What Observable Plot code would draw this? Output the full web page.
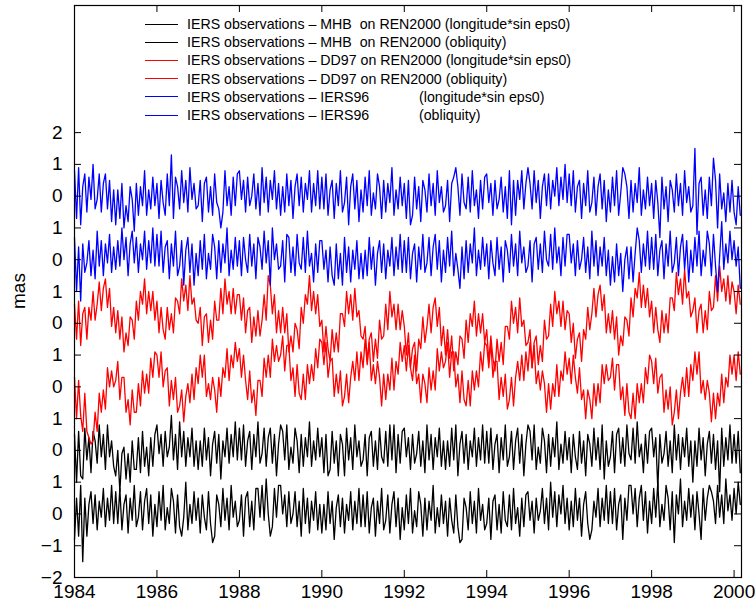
<!DOCTYPE html>
<html><head><meta charset="utf-8">
<script src="https://cdn.jsdelivr.net/npm/d3@7"></script>
<script src="https://cdn.jsdelivr.net/npm/@observablehq/plot@0.6"></script>
<style>
body{margin:0;background:#fff;font-family:"Liberation Sans",Arial,Helvetica,sans-serif;}
#wrap{position:relative;width:756px;height:605px;overflow:hidden;}
.lg{position:absolute;font-size:14.2px;white-space:pre;line-height:16px;color:#000;}
.sw{position:absolute;height:0;border-top:1.2px solid #000;width:33px;}
#ylab{position:absolute;font-size:19px;line-height:19px;transform:translate(-50%,-50%) rotate(-90deg);}
</style>
</head><body>
<div id="wrap"><div id="chart"></div></div>
<script>
// Sampling grid of the residual series (years)
const t0 = 1984, dt = 0.05;
// Residuals in units of 0.1 mas, one value every dt years starting at t0 (one row per year)
const iers96Long = [
8,-7,9,-9,3,7,-5,6,-1,10,-4,-1,7,-5,4,7,-4,5,-8,2,
-9,2,-7,4,-10,-3,-8,3,-1,-11,4,-6,3,-3,8,-6,2,-4,6,-3,
4,-7,5,-2,-6,7,-3,13,-7,6,3,-4,8,-2,5,-5,9,-1,4,-4,
-3,5,-8,4,6,-5,3,-6,7,-2,-4,-10,-5,8,-3,3,-6,6,-3,7,
8,-1,5,-5,6,-3,0,7,-4,4,-6,9,-2,6,-5,5,-1,8,-4,4,
-6,3,-5,7,-3,5,-7,3,7,-3,6,-5,4,-1,8,-5,4,-3,8,-4,
6,-4,7,-6,2,5,-7,4,-3,8,-5,-2,6,-9,3,7,-4,5,-8,2,
-5,6,-3,8,-6,1,-4,7,3,-7,5,-5,4,-2,9,-6,2,-4,6,-3,
4,-7,5,-9,-6,6,-4,3,-8,5,2,-5,7,-3,4,-6,8,-2,3,-5,
-3,5,-8,4,6,9,3,-6,7,-2,-4,6,-5,8,-3,2,-7,5,-4,6,
7,-2,4,-6,5,-4,-1,6,-5,3,-7,8,-9,5,-6,5,-1,8,-4,4,
9,4,-4,8,-2,5,-7,3,7,-3,7,-4,5,0,9,-3,6,-1,10,-2,
7,-3,8,-5,3,5,-7,4,-3,8,-5,-2,6,-6,3,7,-4,5,-8,2,
-5,6,-3,8,-6,1,9,7,3,-7,5,-5,4,-2,9,-6,2,-4,6,-3,
4,-7,5,-2,-13,6,-4,3,-8,5,2,-5,7,-3,4,-6,8,-2,3,-5,
-3,15,-12,4,6,-6,2,-7,6,-3,12,5,-10,7,-4,1,-8,4,-5,5,
-5,-9,3,-6];
const iers96Obl = [
7,-10,4,-13,5,-4,-1,6,-5,3,-6,9,-2,6,-5,5,-1,8,-4,4,
-3,6,-2,10,0,7,-5,5,9,-1,7,-4,5,0,9,-3,6,-1,10,-2,
8,-2,9,-4,4,6,-6,5,-2,9,-5,-2,6,-8,3,7,-4,5,-8,2,
-5,6,-3,8,-6,2,-3,8,4,-6,6,-4,5,-1,10,-5,3,-3,7,-2,
6,-5,7,0,-4,8,-2,5,-6,7,4,-3,9,-1,6,-8,10,0,5,-3,
-2,6,-7,8,7,-4,4,-5,8,-1,-3,7,-4,9,-2,2,-7,5,-4,6,
6,-3,3,-7,4,-5,-8,5,-6,2,-8,7,-4,4,-7,3,-3,6,-6,2,
-6,3,-5,7,-3,4,-8,2,6,-4,5,-6,3,-2,7,-5,4,-3,8,-4,
6,-4,7,-6,2,5,-7,4,-3,8,-4,-1,7,-5,4,8,-3,6,-7,3,
-4,7,-2,9,-5,2,-3,-9,4,-6,6,-4,5,-1,10,-5,3,-3,7,-2,
5,-6,6,-1,-5,7,-3,4,-7,6,3,-4,8,-2,5,-5,9,-1,4,-4,
-2,6,-7,5,7,-3,5,-4,9,0,-2,8,-3,10,-1,4,-5,7,-2,8,
8,-1,5,-5,6,-3,0,7,-4,4,-6,9,-2,6,-5,4,-2,7,-5,3,
-8,1,-7,5,-5,2,-10,0,4,-6,4,-7,2,10,6,-4,5,-2,9,-3,
7,-3,8,-5,3,6,-6,5,-2,9,-4,-1,7,-5,4,8,-3,6,-7,3,
-4,7,-2,9,-5,3,-2,9,5,-5,8,-2,-10,1,12,-3,5,-1,9,0,
6,-2,4,-9];
const dd97Long = [
6,-5,7,-7,3,5,-5,5,1,10,1,6,13,4,11,14,5,11,-1,5,
-3,4,-5,2,-9,-3,-7,2,1,-5,7,1,10,6,14,3,10,4,10,1,
7,-3,5,-2,-5,5,-2,3,-3,8,7,3,14,7,12,4,15,6,8,1,
0,5,-7,2,3,-6,1,-5,7,1,1,11,3,14,6,10,3,11,3,9,
9,1,8,-3,4,5,-6,2,-4,4,-4,1,9,1,15,12,3,9,-3,4,
-3,5,-3,3,-9,-4,-9,0,-2,-8,5,0,9,6,15,4,10,3,9,-1,
1,-9,-1,-8,-12,-2,-9,-3,-9,3,3,-1,10,3,9,1,11,2,4,-4,
-5,-1,-12,-5,-3,-12,-5,-11,1,-5,-4,6,-2,10,2,6,-2,6,-2,4,
-1,-10,-3,-14,-8,-6,-15,-5,-8,2,-6,-1,6,-3,5,8,-1,5,-7,-1,
-10,-2,-11,-4,-15,-9,-13,-4,-5,-11,1,-6,3,-1,7,-4,3,-3,3,-6,
-2,-12,-4,-11,-15,-5,-12,-6,-13,-1,-1,-5,7,0,5,-3,8,-1,1,-7,
-6,-2,-14,-6,-4,-13,-7,-12,1,-5,-4,6,-1,10,3,7,-1,7,-2,4,
3,-6,0,-11,-5,-3,-12,-2,-5,5,-2,3,11,2,9,12,4,9,-3,3,
-3,4,-5,2,-10,-4,-7,2,1,-4,8,2,11,8,16,5,12,5,11,2,
7,-3,5,-2,-6,4,-3,3,-3,8,8,4,16,9,14,6,17,8,10,2,
4,8,-3,4,6,-3,4,-2,10,4,5,15,7,18,10,14,7,15,6,13,
10,3,12,6];
const dd97Obl = [
3,-10,2,-9,-14,-2,-14,-16,-18,-17,-8,-14,-2,-8,-1,-7,6,0,5,0,
2,8,-4,3,3,-8,-4,-12,-1,-8,-8,1,-6,5,-2,4,-2,9,3,11,
10,3,11,0,5,6,-6,2,-4,3,-8,-6,-1,-11,-3,1,-5,4,-4,6,
1,10,3,10,-3,1,-4,3,-1,-8,3,-3,6,3,12,2,10,6,14,8,
12,3,10,2,-4,5,-5,-1,-9,2,2,-3,9,3,10,3,15,8,13,8,
10,16,5,13,13,2,6,-3,7,-2,-4,4,-4,7,1,7,2,12,6,15,
14,7,14,3,8,9,-3,4,-2,5,-6,-3,4,-5,3,8,2,11,2,11,
6,15,7,14,2,7,1,8,3,-6,4,-4,4,-1,9,-1,8,4,14,8,
13,5,13,6,2,10,1,4,-5,4,1,-5,6,-1,5,-1,12,5,11,6,
8,14,3,11,11,0,4,-5,5,-4,-6,2,-6,5,-1,5,0,11,5,14,
13,6,14,3,8,8,-4,3,-3,4,-7,-4,3,-6,3,8,2,10,2,11,
5,14,6,13,1,5,-1,5,1,-8,1,-7,1,-3,7,-3,5,2,11,4,
9,1,10,3,-2,6,-4,-1,-10,-1,-4,-10,1,-6,1,-5,7,1,7,2,
3,9,-1,7,7,-4,0,-9,1,-8,-10,-2,-10,1,-5,1,-5,6,1,10,
8,1,9,-2,3,4,-8,-1,-7,0,-12,-8,-1,-10,-2,3,-3,6,-3,7,
2,11,4,11,-2,2,-4,2,-2,-11,-2,-10,-2,-6,4,-5,3,0,10,4,
10,2,11,4];
const mhbLong = [
5,-10,6,-8,-9,7,-3,4,-7,6,3,-4,8,-2,5,-6,8,-2,3,-5,
-8,0,-13,-1,1,-9,-1,-10,3,-6,-6,4,-7,6,-5,1,-8,4,-5,5,
8,-1,5,-5,6,-2,1,11,-3,5,-6,9,-2,6,-5,4,-2,7,-5,3,
-6,3,-5,7,-3,4,-8,2,6,-4,5,-9,3,-2,7,-4,5,-2,9,-3,
7,-3,8,-5,3,6,-6,5,-2,9,-4,-1,7,-5,4,7,-4,5,-8,2,
8,6,-3,8,-6,1,-4,7,3,-7,5,-5,4,-2,9,-5,3,-3,7,-2,
4,-7,5,-8,-6,6,-4,3,-8,5,2,-8,7,-3,4,-6,8,-2,3,-5,
-3,5,-8,4,6,-5,3,-6,7,-2,-4,6,-5,8,-3,8,-7,5,-4,6,
7,-2,4,-6,5,-4,-1,6,-5,3,-7,8,-3,5,-6,4,-2,7,-5,3,
-6,3,-5,7,-3,8,-8,2,6,-4,5,-6,3,-2,7,-5,4,-3,8,-4,
6,-4,7,-6,2,5,-7,4,-3,8,-5,-2,6,-6,3,7,-4,5,-8,2,
8,6,-3,8,-6,1,-4,7,3,-7,5,-5,4,-2,9,-6,2,-4,6,-3,
4,-7,5,-2,-6,6,-4,3,-8,5,2,-5,7,-3,4,-6,8,-9,3,-5,
-2,6,-7,5,7,-4,4,-5,8,-1,-3,7,-4,9,-2,2,-7,5,-4,6,
7,-2,4,-12,5,-4,-1,6,-5,3,-7,8,-3,5,-6,4,-2,7,-5,3,
-10,3,-5,7,-3,4,-8,2,6,-4,5,-6,3,-13,7,-5,4,-3,8,-4,
5,-4,6,-7];
const mhbObl = [
-8,5,-7,9,-15,5,-7,3,7,-3,6,-5,4,-1,8,-4,5,-2,9,-3,
7,-3,8,-5,3,6,-6,5,-2,9,-4,-1,7,-5,4,8,-3,6,-7,3,
-4,7,-2,9,-5,2,-3,8,4,-6,6,-4,-7,-1,10,-5,3,-3,7,-2,
5,-6,6,-1,-5,7,-3,-9,-7,6,3,-4,8,-2,5,-5,9,-1,4,-4,
-2,6,-7,5,7,-4,4,-5,8,8,-1,9,-2,11,0,-7,-4,8,-1,9,
9,0,6,-4,7,-3,0,7,-4,4,-7,8,-3,5,-6,4,-2,7,-5,3,
-6,3,-5,7,-3,4,-8,2,6,-4,5,-6,3,-2,7,-5,4,-3,8,-4,
6,-4,7,-6,2,5,-7,4,-3,8,-5,-2,6,-6,3,7,-4,5,-8,2,
-5,6,-3,8,-6,1,-4,7,3,-7,5,-5,4,-2,9,-6,2,-4,6,-3,
4,-7,5,-2,-6,6,-4,-9,-8,5,2,-5,7,-3,4,-6,8,-2,3,-5,
-3,5,-8,4,6,-5,3,-6,7,-2,-4,6,-5,8,-3,2,-7,5,-4,6,
7,-2,4,-6,5,-2,1,8,-3,5,-5,10,-1,7,-4,6,0,9,-3,5,
-5,4,-4,8,-2,5,-7,3,7,-3,-8,-5,4,-1,8,-4,5,-2,9,-3,
7,-3,8,-5,3,6,-8,5,-2,9,9,0,8,-4,5,9,-2,7,-6,4,
-3,8,-1,10,-4,3,-2,9,5,-5,7,-9,6,0,11,-4,4,-2,8,-1,
6,-5,7,0,-8,8,-2,5,9,7,4,-3,9,-1,6,-3,11,1,6,-2,
8,0,10,3];

// Stacking: each series is shifted by its offset (mas); draw order black, red, blue
const seriesValues = [mhbObl, mhbLong, dd97Obl, dd97Long, iers96Obl, iers96Long];
const seriesOffsets = [0, 2, 4, 6, 8, 10];
const seriesColors = ["#000000", "#000000", "#ff0000", "#ff0000", "#0000ff", "#0000ff"];

// Axes
const xTicks = [1984, 1986, 1988, 1990, 1992, 1994, 1996, 1998, 2000];
const yTicks = [-2, -1, 0, 1, 2, 3, 4, 5, 6, 7, 8, 9, 10, 11, 12];
const yTickLabels = ["\u22122", "\u22121", "0", "1", "0", "1", "0", "1", "0", "1", "0", "1", "0", "1", "2"];
const xDomain = [1984, 2000.18];
const yDomain = [-2, 16];
const yLabel = "mas";

// Legend (top to bottom)
const legendLabels = [
  "IERS observations \u2013 MHB  on REN2000 (longitude*sin eps0)",
  "IERS observations \u2013 MHB  on REN2000 (obliquity)",
  "IERS observations \u2013 DD97 on REN2000 (longitude*sin eps0)",
  "IERS observations \u2013 DD97 on REN2000 (obliquity)",
  "IERS observations \u2013 IERS96",
  "IERS observations \u2013 IERS96"];
const legendNotes = ["", "", "", "", "(longitude*sin eps0)", "(obliquity)"];
const legendColors = ["#000000", "#000000", "#ff0000", "#ff0000", "#0000ff", "#0000ff"];

const W = 756, H = 605, mL = 74, mR = 15, mT = 5, mB = 28;
const frameW = W - mL - mR, frameH = H - mT - mB, tickLen = 7;
const yLabelOf = new Map(yTicks.map((v, i) => [v, yTickLabels[i]]));

const lineMarks = seriesValues.map((vals, k) =>
  Plot.line(vals.map((v, i) => ({t: t0 + i * dt, v: seriesOffsets[k] + v / 10})),
    {x: "t", y: "v", stroke: seriesColors[k], strokeWidth: 1.3})
);

const chart = Plot.plot({
  width: W, height: H,
  marginLeft: mL, marginRight: mR, marginTop: mT, marginBottom: mB,
  style: {fontFamily: '"Liberation Sans", Arial, Helvetica, sans-serif', fontSize: "19px", background: "white", color: "black", overflow: "visible"},
  x: {domain: xDomain},
  y: {domain: yDomain},
  marks: [
    ...lineMarks,
    Plot.frame({stroke: "black", strokeWidth: 1.2}),
    Plot.ruleX(xTicks, {insetTop: frameH - tickLen, stroke: "black"}),
    Plot.ruleX(xTicks, {insetBottom: frameH - tickLen, stroke: "black"}),
    Plot.ruleY(yTicks, {insetRight: frameW - tickLen, stroke: "black"}),
    Plot.ruleY(yTicks, {insetLeft: frameW - tickLen, stroke: "black"}),
    Plot.axisX(xTicks, {tickSize: 0, tickPadding: 7, tickFormat: d => String(d), fontSize: 19, label: null}),
    Plot.axisY(yTicks, {tickSize: 0, tickPadding: 12, tickFormat: d => yLabelOf.get(d), fontSize: 19, label: null})
  ]
});
const wrap = document.getElementById("wrap");
document.getElementById("chart").appendChild(chart);

// y label
const yl = document.createElement("div");
yl.id = "ylab"; yl.textContent = yLabel;
yl.style.left = "18px"; yl.style.top = "291px";
wrap.appendChild(yl);

// legend
legendLabels.forEach((m, i) => {
  const cy = 24 + i * 18.2;
  const sw = document.createElement("div");
  sw.className = "sw"; sw.style.left = "145px"; sw.style.top = (cy - 0.5) + "px";
  sw.style.borderTopColor = legendColors[i];
  wrap.appendChild(sw);
  [[m, 187], [legendNotes[i], 419]].forEach(([txt, x]) => {
    if (!txt) return;
    const d = document.createElement("div");
    d.className = "lg"; d.textContent = txt;
    d.style.left = x + "px"; d.style.top = (cy - 8) + "px";
    wrap.appendChild(d);
  });
});
</script>
</body></html>
